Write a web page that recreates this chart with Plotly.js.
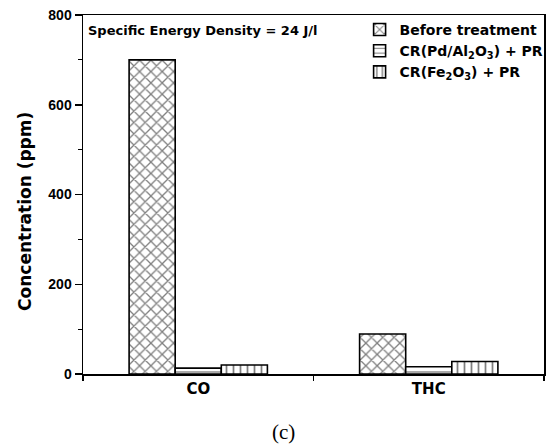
<!DOCTYPE html>
<html>
<head>
<meta charset="utf-8">
<script src="https://cdn.plot.ly/plotly-3.0.1.min.js"></script>
<style>html,body{margin:0;padding:0;background:#fff;}#chart{width:548px;height:444px;}</style>
</head>
<body>
<div id="chart"></div>
<script>
const categories = ["CO", "THC"];
const seriesNames = ["Before treatment", "CR(Pd/Al<sub>2</sub>O<sub>3</sub>) + PR", "CR(Fe<sub>2</sub>O<sub>3</sub>) + PR"];
const beforeTreatment = [700, 89];
const crPdAl2O3PR = [13, 16];
const crFe2O3PR = [20, 28];
const yTickValues = [0, 200, 400, 600, 800];

const boldFont = {family: "DejaVu Sans", weight: "bold", color: "#000"};
const patterns = [
  {shape: "x", size: 8, solidity: 0.3, fgcolor: "#000", bgcolor: "#fff", fillmode: "overlay"},
  {shape: "-", size: 6, solidity: 0.22, fgcolor: "#000", bgcolor: "#fff", fillmode: "overlay"},
  {shape: "|", size: 7, solidity: 0.25, fgcolor: "#000", bgcolor: "#fff", fillmode: "overlay"}
];
const seriesValues = [beforeTreatment, crPdAl2O3PR, crFe2O3PR];

const traces = seriesValues.map((vals, i) => ({
  type: "bar",
  x: categories,
  y: vals,
  name: seriesNames[i],
  marker: {color: "#fff", line: {color: "#000", width: 1.6}, pattern: patterns[i]}
}));

const layout = {
  width: 548, height: 444,
  margin: {l: 83, r: 4, t: 15, b: 70, autoexpand: false},
  paper_bgcolor: "#fff", plot_bgcolor: "#fff",
  barmode: "group", bargap: 0.4, bargroupgap: 0,
  showlegend: true,
  legend: {
    x: 0.6, y: 1.003, xanchor: "left", yanchor: "top",
    bgcolor: "rgba(0,0,0,0)", borderwidth: 0,
    font: Object.assign({}, boldFont, {size: 14}),
    tracegroupgap: 0, itemwidth: 30
  },
  xaxis: {
    type: "category", range: [-0.5, 1.5],
    showline: true, linecolor: "#000", linewidth: 1.5, mirror: true,
    ticks: "outside", tickson: "boundaries", ticklen: 5, tickcolor: "#000", tickwidth: 1.5,
    tickfont: Object.assign({}, boldFont, {size: 15}),
    showgrid: false, zeroline: false
  },
  yaxis: {
    range: [0, 800], tickmode: "array", tickvals: yTickValues, ticktext: yTickValues.map(String),
    showline: true, linecolor: "#000", linewidth: 1.5, mirror: true,
    ticks: "outside", ticklen: 7, tickcolor: "#000", tickwidth: 1.5,
    minor: {dtick: 100, ticks: "outside", ticklen: 4, tickcolor: "#000", tickwidth: 1.2},
    tickfont: {family: "Liberation Sans", weight: "bold", size: 14, color: "#000"},
    showgrid: false, zeroline: false
  },
  annotations: [
    {text: "Specific Energy Density = 24 J/l", xref: "paper", yref: "paper",
     x: 0.006, y: 0.958, xanchor: "left", yanchor: "middle", showarrow: false,
     font: Object.assign({}, boldFont, {size: 13})},
    {text: "Concentration (ppm)", xref: "paper", yref: "paper", textangle: -90,
     x: -0.126, y: 0.454, xanchor: "center", yanchor: "middle", showarrow: false,
     font: Object.assign({}, boldFont, {size: 17})},
    {text: "(c)", xref: "paper", yref: "paper",
     x: 0.434, y: -0.162, xanchor: "center", yanchor: "middle", showarrow: false,
     font: {family: "Liberation Serif", size: 21, color: "#000"}}
  ]
};

Plotly.newPlot("chart", traces, layout, {staticPlot: true, displayModeBar: false});
</script>
</body>
</html>
